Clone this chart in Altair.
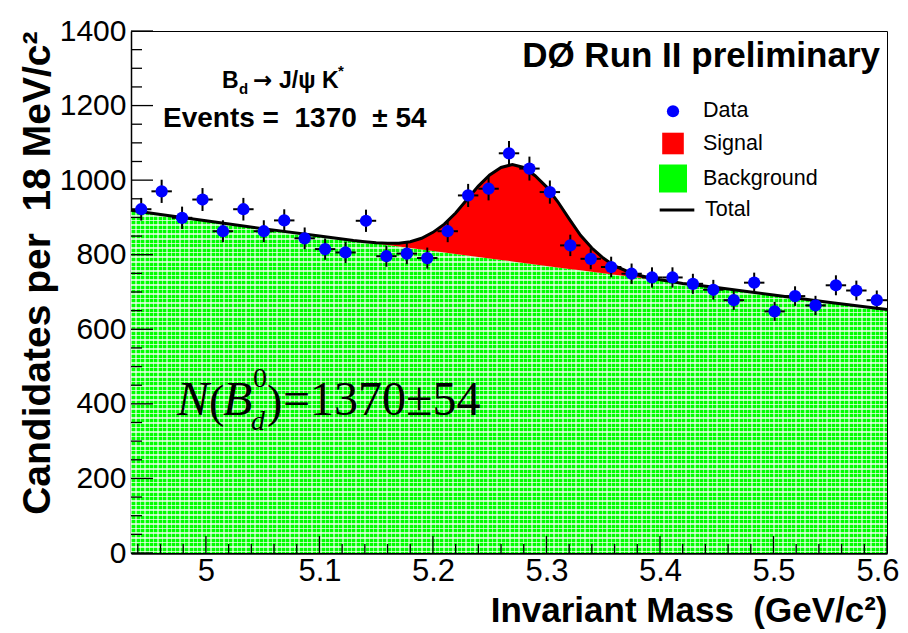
import altair as alt
import pandas as pd

# ---------------- data ----------------
bin_center = [4.943, 4.961, 4.979, 4.997, 5.015, 5.033, 5.051, 5.069, 5.087, 5.105,
              5.123, 5.141, 5.159, 5.177, 5.195, 5.213, 5.231, 5.249, 5.267, 5.285,
              5.303, 5.321, 5.339, 5.357, 5.375, 5.393, 5.411, 5.429, 5.447, 5.465,
              5.483, 5.501, 5.519, 5.537, 5.555, 5.573, 5.591]
candidates = [922, 970, 899, 948, 863, 922, 863, 892, 844, 815,
              806, 891, 796, 803, 791, 863, 959, 977, 1072, 1031,
              968, 825, 789, 767, 749, 739, 739, 722, 706, 678,
              725, 648, 689, 664, 718, 704, 678]

curve_mass = [4.934, 4.96, 5.00, 5.05, 5.10, 5.13, 5.14, 5.15, 5.16, 5.17, 5.18, 5.19,
              5.20, 5.21, 5.22, 5.23, 5.24, 5.25, 5.26, 5.27, 5.28, 5.29, 5.30, 5.31,
              5.32, 5.33, 5.34, 5.35, 5.36, 5.37, 5.38, 5.39, 5.40, 5.41, 5.42, 5.45,
              5.50, 5.55, 5.60]
background = [919, 908, 891, 870, 850, 838, 834, 830, 826, 822, 818, 814,
              810, 806, 802, 798, 794, 790, 786, 782, 778, 774, 770, 766,
              762, 758, 754, 750, 746, 743, 739, 735, 731, 727, 723, 712,
              692, 672, 653]
signal = [0, 0, 0, 0, 0, 0, 1, 2, 5, 9, 17, 30,
          50, 76, 110, 150, 190, 224, 248, 260, 256, 238, 212, 176,
          134, 94, 64, 41, 24, 14, 7, 4, 2, 1, 0, 0,
          0, 0, 0]

legend_entries = ["Data", "Signal", "Background"]
legend_colors = ["#0000ff", "#ff0000", "#00ff00"]
legend_shapes = ["circle", "square", "square"]
legend_sizes = [150, 784, 784]
total_entry = ["Total"]

x_tick_major = [5.0, 5.1, 5.2, 5.3, 5.4, 5.5, 5.6]
y_tick_major = [0, 200, 400, 600, 800, 1000, 1200, 1400]
x_tick_minor = [round(4.94 + 0.02 * i, 2) for i in range(34)]
x_tick_minor = [v for v in x_tick_minor if abs(v * 10 - round(v * 10)) > 1e-6]
y_tick_minor = [50 * i for i in range(29) if (50 * i) % 200]

HALF_BIN = 0.009
X_DOMAIN = [4.934, 5.6]
Y_DOMAIN = [0, 1400]

NB = "\u00a0"
XT = f"Invariant Mass{NB}{NB}(GeV/c²)"
YT = f"Candidates per{NB}{NB}18 MeV/c²"

# ---------------- layout / style ----------------
W, H = 756, 522
X0, Y0 = 131, 30.7
FONT = "Liberation Sans"
SERIF = "Liberation Serif"

df_pts = pd.DataFrame({"mass": bin_center, "count": candidates})
df_pts["entry"] = "Data"
df_curve = pd.DataFrame({"mass": curve_mass, "bg": background, "sig": signal})

xscale = alt.Scale(domain=X_DOMAIN, nice=False, zero=False)
yscale = alt.Scale(domain=Y_DOMAIN, nice=False)

x_axis = alt.Axis(values=x_tick_major, format=".1~f", grid=False, ticks=False, tickSize=0,
                  labelFont=FONT, labelFontSize=31, labelColor="black", labelPadding=3,
                  labelBaseline="top", labelFlush=True, labelFlushOffset=12, labelOverlap=False,
                  domainColor="black", domainWidth=2.5,
                  titleFont=FONT, titleFontSize=35, titleFontWeight="bold", titleColor="black",
                  titleAlign="right", titleAnchor="end", titleBaseline="alphabetic",
                  titleX=W, titleY=68)
y_axis = alt.Axis(values=y_tick_major, format="d", grid=False, ticks=False, tickSize=0,
                  labelFont=FONT, labelFontSize=30, labelColor="black", labelPadding=5,
                  labelOverlap=False, labelFlush=False,
                  domainColor="black", domainWidth=1.5,
                  titleFont=FONT, titleFontSize=39, titleFontWeight="bold", titleColor="black",
                  titleAngle=270, titleAlign="right", titleAnchor="end",
                  titleBaseline="alphabetic", titleX=-82, titleY=0)


def X(f):
    return alt.X(f, type="quantitative", scale=xscale, axis=x_axis, title=XT)


def Y(f):
    return alt.Y(f, type="quantitative", scale=yscale, axis=y_axis, title=YT)


def stripes(period, line, span, base, linecol):
    stops = []
    k = 0
    while True:
        a = k * period / span
        if a >= 1:
            break
        b = min(1.0, a + line / span)
        stops += [alt.GradientStop(offset=a, color=base), alt.GradientStop(offset=a, color=linecol),
                  alt.GradientStop(offset=b, color=linecol), alt.GradientStop(offset=b, color=base)]
        k += 1
    return stops


area_h = max(background) * H / Y_DOMAIN[1]
grad_rows = alt.LinearGradient(gradient="linear", x1=0, y1=0, x2=0, y2=1,
                               stops=stripes(4.6, 1.6, area_h, "#00ff00", "#b4ffb4"))
grad_cols = alt.LinearGradient(gradient="linear", x1=0, y1=0, x2=1, y2=0,
                               stops=stripes(4.4, 1.4, W, "rgba(255,255,255,0)", "rgba(255,255,255,0.55)"))

curve = alt.Chart(df_curve).transform_calculate(total="datum.bg + datum.sig")

bg_fill = curve.mark_area(color=grad_rows, opacity=1).encode(x=X("mass"), y=Y("bg"))
bg_hatch = curve.mark_area(color=grad_cols, opacity=1).encode(x=X("mass"), y=Y("bg"))
sig_fill = curve.mark_area(color="#ff0000", opacity=1).encode(x=X("mass"), y=Y("total"), y2="bg")
total_line = curve.transform_calculate(name="'Total'").mark_line(strokeWidth=3).encode(
    x=X("mass"), y=Y("total"),
    stroke=alt.Stroke("name:N", scale=alt.Scale(domain=total_entry, range=["black"]),
                      legend=alt.Legend(title=None, orient="none", legendX=527, legendY=160,
                                        padding=0, symbolType="stroke", symbolSize=1200,
                                        symbolStrokeWidth=3, symbolStrokeColor="black",
                                        labelFont=FONT, labelFontSize=21.5, labelColor="black",
                                        labelOffset=9)))

pts = alt.Chart(df_pts)
err_v = pts.transform_calculate(lo="datum.count - sqrt(datum.count)",
                                hi="datum.count + sqrt(datum.count)").mark_rule(
    color="black", strokeWidth=2).encode(x=X("mass"), y=Y("lo"), y2="hi")
err_h = pts.transform_calculate(xlo=f"datum.mass - {HALF_BIN}", xhi=f"datum.mass + {HALF_BIN}").mark_rule(
    color="black", strokeWidth=2).encode(x=X("xlo"), x2="xhi", y=Y("count"))

leg1 = alt.Legend(title=None, orient="none", legendX=528, legendY=69.5, padding=0,
                  labelFont=FONT, labelFontSize=21.5, labelColor="black", labelOffset=16,
                  rowPadding=4, gridAlign="all", symbolStrokeWidth=0, symbolOpacity=1)
dots = pts.mark_point(filled=True, opacity=1, strokeWidth=0).encode(
    x=X("mass"), y=Y("count"),
    fill=alt.Fill("entry:O", scale=alt.Scale(domain=legend_entries, range=legend_colors), legend=leg1),
    shape=alt.Shape("entry:O", scale=alt.Scale(domain=legend_entries, range=legend_shapes), legend=leg1),
    size=alt.Size("entry:O", scale=alt.Scale(domain=legend_entries, range=legend_sizes), legend=leg1),
)

xmaj = alt.Chart(pd.DataFrame({"v": x_tick_major})).mark_rule(color="black", strokeWidth=1.3).encode(
    x=X("v"), y=alt.value(H), y2=alt.value(H - 17))
xmin = alt.Chart(pd.DataFrame({"v": x_tick_minor})).mark_rule(color="black", strokeWidth=1.3).encode(
    x=X("v"), y=alt.value(H), y2=alt.value(H - 9))
ymaj = alt.Chart(pd.DataFrame({"v": y_tick_major})).mark_rule(color="black", strokeWidth=1.3).encode(
    y=Y("v"), x=alt.value(0), x2=alt.value(22))
ymin = alt.Chart(pd.DataFrame({"v": y_tick_minor})).mark_rule(color="black", strokeWidth=1.3).encode(
    y=Y("v"), x=alt.value(0), x2=alt.value(11))


def label(t, xp, yp, size, font=FONT, weight="normal", style="normal", align="left"):
    return alt.Chart(pd.DataFrame({"t": [t]})).mark_text(
        font=font, fontSize=size, fontWeight=weight, fontStyle=style, align=align,
        baseline="alphabetic", color="black").encode(
        x=alt.value(xp - X0), y=alt.value(yp - Y0), text="t:N")


texts = [
    label("DØ Run II preliminary", 880, 67, 35, weight="bold", align="right"),
    label("B", 222, 88, 23, weight="bold"),
    label("d", 239, 94, 15, weight="bold"),
    label("→", 253, 88, 23, font="DejaVu Sans", weight="bold"),
    label("J/ψ K", 279, 88, 23, weight="bold"),
    label("*", 338, 76, 15, weight="bold"),
    label(f"Events ={NB}{NB}1370{NB}{NB}± 54", 163, 127, 28, weight="bold"),
    label("N", 177, 415, 48, font=SERIF, style="italic"),
    label("(", 209, 417, 46, font=SERIF),
    label("B", 223, 415, 48, font=SERIF, style="italic"),
    label("0", 253, 387, 28, font=SERIF),
    label("d", 251, 430, 28, font=SERIF, style="italic"),
    label(")", 267, 417, 46, font=SERIF),
    label("=1370±54", 283, 415, 48, font=SERIF),
]

chart = alt.layer(bg_fill, bg_hatch, sig_fill, total_line, err_v, err_h, dots,
                  xmaj, xmin, ymaj, ymin, *texts).properties(
    width=W, height=H,
    autosize=alt.AutoSizeParams(type="none"),
    padding={"left": 123, "top": 23, "right": 13, "bottom": 80},
    background="white",
).configure_view(stroke="black", strokeWidth=1)

chart.save("out.html", embed_options={"renderer": "svg", "actions": False})
